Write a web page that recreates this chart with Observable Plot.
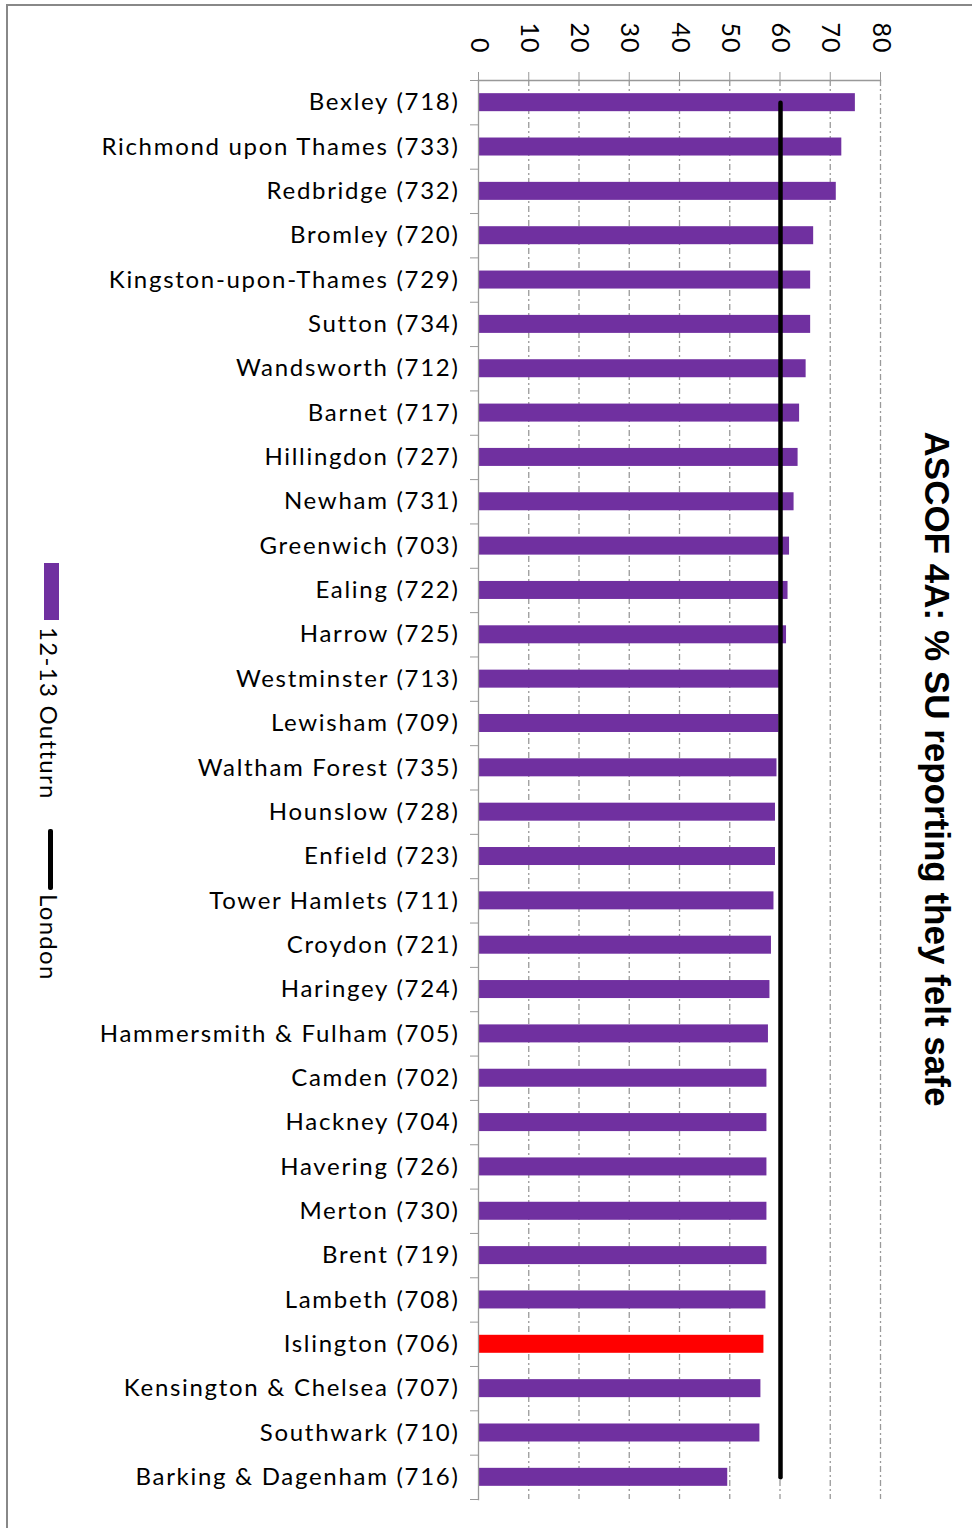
<!DOCTYPE html>
<html>
<head>
<meta charset="utf-8">
<script src="https://cdn.jsdelivr.net/npm/d3@7"></script>
<script src="https://cdn.jsdelivr.net/npm/@observablehq/plot@0.6"></script>
<style>
  body { margin: 0; background: #fff; }
  #wrap { position: relative; width: 972px; height: 1528px; overflow: hidden; font-family: Lato, sans-serif; color: #000; }
  #border { position: absolute; left: 6px; top: 4px; right: -10px; bottom: -10px; border-top: 2.5px solid #888; border-left: 2.5px solid #888; }
  #chart { position: absolute; left: 0; top: 0; }
  .lg { position: absolute; }
  .lgtext { writing-mode: vertical-rl; font-size: 24px; line-height: 26px; width: 26px; white-space: nowrap; letter-spacing: 1.3px; }
  #chart [aria-label="y-axis tick label"] text { letter-spacing: 1.7px; }
  #chart [aria-label="x-axis tick label"] text { letter-spacing: 1px; }
</style>
</head>
<body>
<div id="wrap">
  <div id="border"></div>
  <div id="chart"></div>
  <div class="lg" style="left:44px;top:563px;width:15px;height:57px;background:#7030A0;"></div>
  <div class="lg lgtext" style="left:36px;top:627px;">12-13 Outturn</div>
  <div class="lg" style="left:48px;top:829px;width:4.5px;height:61px;background:#000;border-radius:2px;"></div>
  <div class="lg lgtext" style="left:36px;top:894px;">London</div>
</div>
<script>
const names = [
  "Bexley (718)", "Richmond upon Thames (733)", "Redbridge (732)", "Bromley (720)",
  "Kingston-upon-Thames (729)", "Sutton (734)", "Wandsworth (712)", "Barnet (717)",
  "Hillingdon (727)", "Newham (731)", "Greenwich (703)", "Ealing (722)",
  "Harrow (725)", "Westminster (713)", "Lewisham (709)", "Waltham Forest (735)",
  "Hounslow (728)", "Enfield (723)", "Tower Hamlets (711)", "Croydon (721)",
  "Haringey (724)", "Hammersmith & Fulham (705)", "Camden (702)", "Hackney (704)",
  "Havering (726)", "Merton (730)", "Brent (719)", "Lambeth (708)",
  "Islington (706)", "Kensington & Chelsea (707)", "Southwark (710)", "Barking & Dagenham (716)"
];
const values = [
  75.0, 72.3, 71.2, 66.7,
  66.1, 66.1, 65.2, 63.9,
  63.6, 62.8, 61.9, 61.6,
  61.3, 59.9, 59.8, 59.4,
  59.1, 59.1, 58.8, 58.3,
  58.0, 57.7, 57.4, 57.4,
  57.4, 57.4, 57.4, 57.2,
  56.8, 56.2, 56.0, 49.6
];
const londonValue = [60.1];
const highlighted = ["Islington (706)"];
const xTicks = [0, 10, 20, 30, 40, 50, 60, 70, 80];
const gridTicks = [10, 20, 30, 40, 50, 60, 70, 80];
const title = "ASCOF 4A: % SU reporting they felt safe";

const purple = "#7030A0";
const red = "#FF0000";
const data = names.map((n, i) => ({name: n, value: values[i]}));

const W = 972, H = 1528, mt = 80, mb = 29, ml = 478, mr = 92;
const pInner = 0.594, pOuter = pInner / 2;
const step = (H - mt - mb) / (names.length - pInner + 2 * pOuter);

const chart = Plot.plot({
  width: W,
  height: H,
  marginTop: mt,
  marginBottom: mb,
  marginLeft: ml,
  marginRight: mr,
  style: {fontFamily: "Lato, sans-serif", fontSize: "24px", color: "#000", background: "transparent", overflow: "visible"},
  x: {domain: [0, 80]},
  y: {domain: names, paddingInner: pInner, paddingOuter: pOuter, round: false},
  color: {type: "identity"},
  marks: [
    Plot.gridX({ticks: gridTicks, stroke: "#9a9a9a", strokeOpacity: 1, strokeWidth: 1.3, strokeDasharray: "6,3,2,3"}),
    Plot.barX(data, {x: "value", y: "name", fill: d => highlighted.includes(d.name) ? red : purple}),
    Plot.frame({anchor: "top", stroke: "#999", strokeWidth: 1.3}),
    Plot.frame({anchor: "left", stroke: "#999", strokeWidth: 1.3}),
    Plot.axisX({anchor: "top", ticks: xTicks, tickSize: 9, tickPadding: 18, tickRotate: 90, stroke: "#999", fill: "#000", fontSize: 25, label: null}),
    Plot.axisY({anchor: "left", tickSize: 0, tickPadding: 19, fill: "#000", fontSize: 24, label: null}),
    Plot.axisY({anchor: "left", tickSize: 8, tickFormat: () => "", stroke: "#999", dy: -step / 2, label: null}),
    Plot.axisY({anchor: "left", ticks: [names[names.length - 1]], tickSize: 8, tickFormat: () => "", stroke: "#999", dy: step / 2, label: null}),
    Plot.line(names, {x: () => londonValue[0], y: d => d, stroke: "#000", strokeWidth: 4.5, strokeLinecap: "round"}),
    Plot.text([title], {frameAnchor: "right", textAnchor: "middle", rotate: 90, dx: 56, dy: -21, fontSize: 35, fontWeight: "bold", fontFamily: "Liberation Sans, Arial, sans-serif", fill: "#000"})
  ]
});
document.getElementById("chart").appendChild(chart);
</script>
</body>
</html>
